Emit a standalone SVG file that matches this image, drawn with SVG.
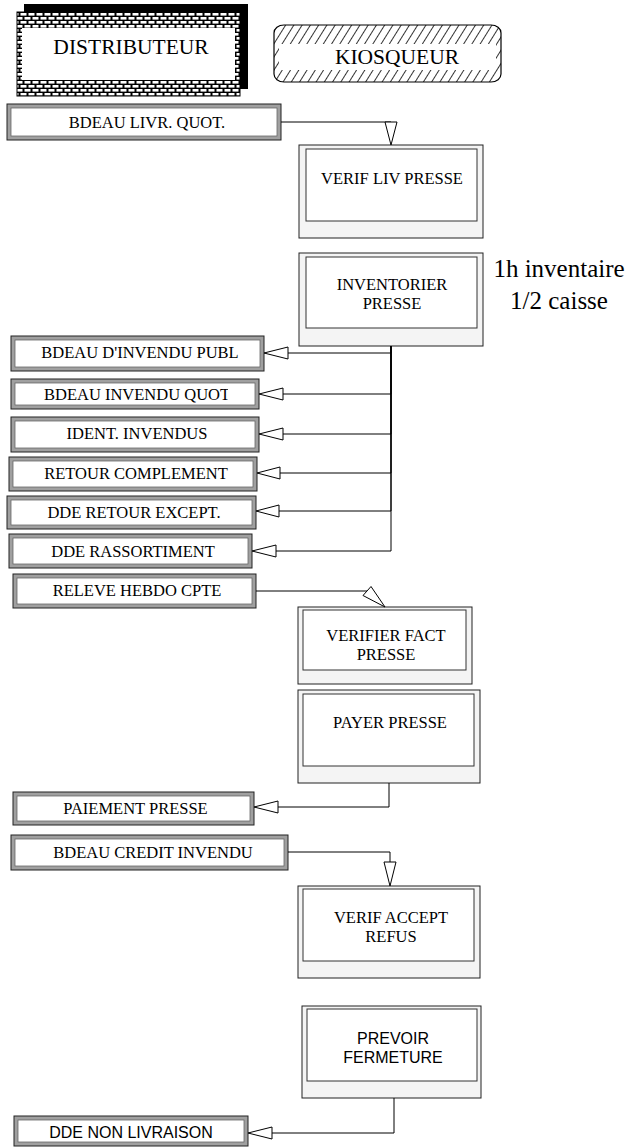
<svg xmlns="http://www.w3.org/2000/svg" width="641" height="1147" viewBox="0 0 641 1147">
<defs>
  <pattern id="brick" x="0" y="0" width="8" height="8" patternUnits="userSpaceOnUse">
    <rect width="8" height="8" fill="#000"/>
    <rect x="0.5" y="1" width="6" height="2.6" fill="#fff"/>
    <rect x="4.5" y="5" width="6" height="2.6" fill="#fff"/>
    <rect x="-3.5" y="5" width="6" height="2.6" fill="#fff"/>
  </pattern>
  <pattern id="hatch" x="0" y="0" width="7" height="10" patternUnits="userSpaceOnUse" patternTransform="rotate(32)">
    <rect width="7" height="10" fill="#fff"/>
    <line x1="3.5" y1="0" x2="3.5" y2="10" stroke="#000" stroke-width="0.8"/>
  </pattern>
  <clipPath id="clipQuot"><rect x="0" y="370" width="228" height="45"/></clipPath>
  <style>
    .lbo{fill:#a0a0a0;stroke:#222;stroke-width:1}
    .lbi{fill:#fff;stroke:#666;stroke-width:0.8}
    .pbo{fill:#f4f4f4;stroke:#222;stroke-width:1}
    .pbi{fill:#fff;stroke:#333;stroke-width:1}
    .t{font-family:"Liberation Serif","Times New Roman",serif;font-size:16.5px;fill:#000;text-anchor:middle}
    .ts{font-family:"Liberation Sans",Arial,sans-serif;font-size:16px;fill:#000;text-anchor:middle}
    .big{font-family:"Liberation Serif","Times New Roman",serif;font-size:21.5px;fill:#000;text-anchor:middle}
    .note{font-family:"Liberation Serif","Times New Roman",serif;font-size:25px;fill:#000;text-anchor:middle}
    .ln{fill:none;stroke:#000;stroke-width:1}
    .ah{fill:#fff;stroke:#000;stroke-width:1}
  </style>
</defs>
<rect width="641" height="1147" fill="#fff"/>

<g id="distributeur">
  <rect x="24" y="4" width="224" height="85" fill="#000"/>
  <rect x="17" y="12" width="223" height="84" fill="url(#brick)" stroke="#000" stroke-width="1"/>
  <rect x="22" y="28" width="213" height="52" fill="#fff"/>
  <text class="big" x="131" y="54">DISTRIBUTEUR</text>
</g>

<g id="kiosqueur">
  <rect x="274" y="25" width="227" height="57" rx="10" ry="8" fill="url(#hatch)" stroke="#000" stroke-width="1.2"/>
  <rect x="279" y="44" width="217" height="26" fill="#fff"/>
  <text class="big" x="397" y="64">KIOSQUEUR</text>
</g>

<g id="bdeau-livr-quot">
  <rect class="lbo" x="7" y="104" width="274" height="36"/>
  <rect class="lbi" x="11" y="108" width="266" height="28"/>
  <text class="t" x="147" y="128">BDEAU LIVR. QUOT.</text>
</g>

<g id="verif-liv-presse">
  <rect class="pbo" x="299" y="145" width="184" height="93"/>
  <rect class="pbi" x="306" y="149" width="171" height="72"/>
  <text class="t" x="392" y="184">VERIF LIV PRESSE</text>
</g>

<g id="inventorier-presse">
  <rect class="pbo" x="299" y="253" width="184" height="93"/>
  <rect class="pbi" x="306" y="257" width="171" height="71"/>
  <text class="t" x="392" y="290">INVENTORIER</text>
  <text class="t" x="392" y="309">PRESSE</text>
</g>

<g id="note">
  <text class="note" x="559" y="277">1h inventaire</text>
  <text class="note" x="559" y="309">1/2 caisse</text>
</g>

<g id="bdeau-dinvendu-publ">
  <rect class="lbo" x="11" y="336" width="253" height="35"/>
  <rect class="lbi" x="15" y="340" width="245" height="27"/>
  <text class="t" x="140" y="358">BDEAU D'INVENDU PUBL</text>
</g>

<g id="bdeau-invendu-quot">
  <rect class="lbo" x="11" y="379" width="248" height="30"/>
  <rect class="lbi" x="15" y="383" width="240" height="22"/>
  <text class="t" x="44" y="400" style="text-anchor:start" clip-path="url(#clipQuot)">BDEAU INVENDU QUOT</text>
</g>

<g id="ident-invendus">
  <rect class="lbo" x="11" y="417" width="248" height="35"/>
  <rect class="lbi" x="15" y="421" width="240" height="27"/>
  <text class="t" x="137" y="439">IDENT. INVENDUS</text>
</g>

<g id="retour-complement">
  <rect class="lbo" x="9" y="457" width="248" height="34"/>
  <rect class="lbi" x="13" y="461" width="240" height="26"/>
  <text class="t" x="136" y="479">RETOUR COMPLEMENT</text>
</g>

<g id="dde-retour-except">
  <rect class="lbo" x="7" y="496" width="249" height="33"/>
  <rect class="lbi" x="11" y="500" width="241" height="25"/>
  <text class="t" x="134" y="518">DDE RETOUR EXCEPT.</text>
</g>

<g id="dde-rassortiment">
  <rect class="lbo" x="9" y="534" width="243" height="34"/>
  <rect class="lbi" x="13" y="538" width="235" height="26"/>
  <text class="t" x="133" y="557">DDE RASSORTIMENT</text>
</g>

<g id="releve-hebdo-cpte">
  <rect class="lbo" x="13" y="574" width="243" height="34"/>
  <rect class="lbi" x="17" y="578" width="235" height="26"/>
  <text class="t" x="137" y="596">RELEVE HEBDO CPTE</text>
</g>

<g id="verifier-fact-presse">
  <rect class="pbo" x="298" y="607" width="174" height="77"/>
  <rect class="pbi" x="303" y="610" width="163" height="60"/>
  <text class="t" x="386" y="641">VERIFIER FACT</text>
  <text class="t" x="386" y="660">PRESSE</text>
</g>

<g id="payer-presse">
  <rect class="pbo" x="298" y="690" width="182" height="93"/>
  <rect class="pbi" x="303" y="694" width="171" height="72"/>
  <text class="t" x="390" y="728">PAYER PRESSE</text>
</g>

<g id="paiement-presse">
  <rect class="lbo" x="13" y="792" width="241" height="33"/>
  <rect class="lbi" x="17" y="796" width="233" height="25"/>
  <text class="t" x="135.5" y="814">PAIEMENT PRESSE</text>
</g>

<g id="bdeau-credit-invendu">
  <rect class="lbo" x="11" y="835" width="277" height="35"/>
  <rect class="lbi" x="15" y="839" width="269" height="27"/>
  <text class="t" x="153" y="858">BDEAU CREDIT INVENDU</text>
</g>

<g id="verif-accept-refus">
  <rect class="pbo" x="298" y="886" width="182" height="92"/>
  <rect class="pbi" x="303" y="889" width="171" height="72"/>
  <text class="t" x="391" y="923">VERIF ACCEPT</text>
  <text class="t" x="391" y="942">REFUS</text>
</g>

<g id="prevoir-fermeture">
  <rect class="pbo" x="302" y="1006" width="179" height="92"/>
  <rect class="pbi" x="307" y="1009" width="170" height="72"/>
  <text class="ts" x="393" y="1044">PREVOIR</text>
  <text class="ts" x="393" y="1063">FERMETURE</text>
</g>

<g id="dde-non-livraison">
  <rect class="lbo" x="14" y="1116" width="234" height="30"/>
  <rect class="lbi" x="18" y="1120" width="226" height="22"/>
  <text class="ts" x="131" y="1138">DDE NON LIVRAISON</text>
</g>

<g id="connectors">
  <path class="ln" d="M281,122 H391"/>
  <polygon class="ah" points="385,122 397,122 391,145"/>

  <path class="ln" d="M391,346 V353 H288"/>
  <polygon class="ah" points="264,353 288,347 288,359"/>
  <path class="ln" d="M391,346 V394 H283"/>
  <polygon class="ah" points="259,394 283,388 283,400"/>
  <path class="ln" d="M391,346 V434 H283"/>
  <polygon class="ah" points="259,434 283,428 283,440"/>
  <path class="ln" d="M391,346 V473 H280"/>
  <polygon class="ah" points="257,473 280,467 280,479"/>
  <path class="ln" d="M391,346 V511 H279"/>
  <polygon class="ah" points="256,511 279,505 279,517"/>
  <path class="ln" d="M391,346 V551 H276"/>
  <polygon class="ah" points="252,551 276,545 276,557"/>

  <path class="ln" d="M256,591 H367"/>
  <polygon class="ah" points="385,607 363,595.5 371,586.5"/>

  <path class="ln" d="M389,783 V807 H278"/>
  <polygon class="ah" points="254,807 278,801 278,813"/>

  <path class="ln" d="M288,852 H390 V862"/>
  <polygon class="ah" points="384,862 396,862 390,886"/>

  <path class="ln" d="M394,1098 V1133 H272"/>
  <polygon class="ah" points="248,1133 272,1127 272,1139"/>
</g>
</svg>
